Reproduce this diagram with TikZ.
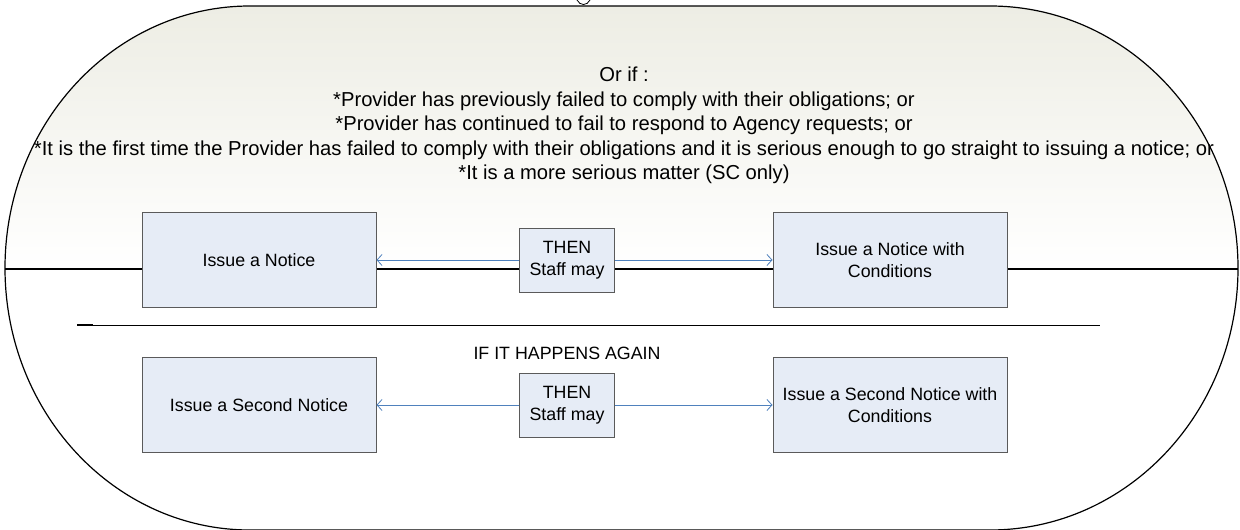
\documentclass[tikz,border=0pt]{standalone}
\usepackage{fontspec}
\setmainfont{Liberation Sans}
\usepackage{tikz}
\usetikzlibrary{arrows.meta}
\definecolor{shadetop}{RGB}{237,237,228}
\definecolor{boxfill}{RGB}{230,236,246}
\definecolor{boxline}{RGB}{90,90,90}
\definecolor{arrblue}{RGB}{79,129,189}
\tikzstyle{bigbox}=[draw=boxline,fill=boxfill,line width=1pt,minimum width=234pt,minimum height=95pt,align=center,inner sep=2pt,font=\fontsize{17.8}{22.5}\selectfont]
\tikzstyle{thenbox}=[bigbox,minimum width=95pt,minimum height=64pt]
\tikzstyle{staff}=[-{Straight Barb[length=5pt,width=11pt]},draw=arrblue,line width=0.8pt]

\begin{document}
\begin{tikzpicture}[x=1pt,y=-1pt]
	\useasboundingbox (0,0) rectangle (1240,530);
	
	\shadedraw[top color=shadetop, bottom color=white, middle color=white, draw=black, line width=1.2pt]
		(250,6) -- (990,6) arc[start angle=-90, end angle=90, x radius=248, y radius=262]
		-- (250,530) arc[start angle=90, end angle=270, x radius=245, y radius=262] -- cycle;
	\draw[line width=0.8pt] (577,0) .. controls (580,6) and (587,6) .. (590,0);
	
	\draw[line width=1.3pt] (5,269) -- (1238,269);
	\draw[line width=0.9pt] (77,325) -- (1100,325);
	\draw[line width=2pt] (77,325) -- (93,325);
	
	\node[anchor=north, align=center, inner sep=0pt, font=\fontsize{20.2}{24.4}\selectfont] (orif) at (624,67)
		{Or if :\\
		*Provider has previously failed to comply with their obligations; or\\
		*Provider has continued to fail to respond to Agency requests; or\\
		*It is the first time the Provider has failed to comply with their obligations and it is serious enough to go straight to issuing a notice; or\\
		*It is a more serious matter (SC only)};
	
	\node[bigbox] (n1) at (259,260) {Issue a Notice};
	\node[thenbox] (then1) at (567,260) {THEN\\Staff may};
	\node[bigbox] (nc1) at (890,260) {Issue a Notice with\\Conditions};
	
	\node[anchor=base, font=\fontsize{17.8}{22.5}\selectfont] (again) at (567,359) {IF IT HAPPENS AGAIN};
	
	\node[bigbox] (n2) at (259,405) {Issue a Second Notice};
	\node[thenbox] (then2) at (567,405) {THEN\\Staff may};
	\node[bigbox] (nc2) at (890,405) {Issue a Second Notice with\\Conditions};
	
	\draw[staff] (then1) -- (n1);
	\draw[staff] (then1) -- (nc1);
	\draw[staff] (then2) -- (n2);
	\draw[staff] (then2) -- (nc2);
\end{tikzpicture}
\end{document}
